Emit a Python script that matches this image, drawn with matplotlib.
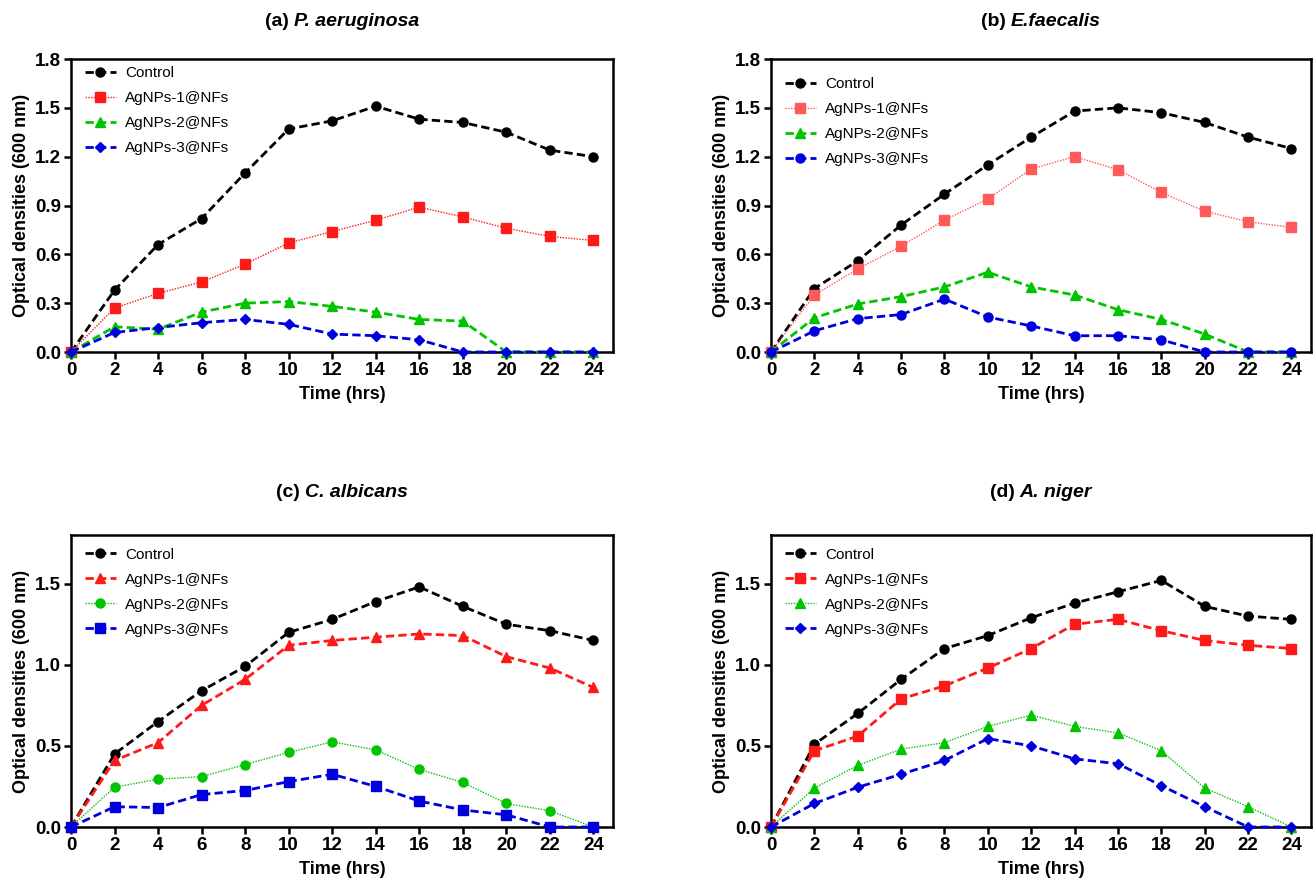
import matplotlib
matplotlib.use("Agg")
import matplotlib.pyplot as plt
import numpy as np

plt.rcParams['font.family'] = ['Liberation Sans', 'DejaVu Sans']

hours = [0, 2, 4, 6, 8, 10, 12, 14, 16, 18, 20, 22, 24]
series_names = ["Control", "AgNPs-1@NFs", "AgNPs-2@NFs", "AgNPs-3@NFs"]

# (a) P. aeruginosa
a_control = [0, 0.38, 0.66, 0.82, 1.10, 1.37, 1.42, 1.51, 1.43, 1.41, 1.35, 1.24, 1.20]
a_np1 = [0, 0.27, 0.36, 0.43, 0.54, 0.67, 0.74, 0.81, 0.89, 0.83, 0.76, 0.71, 0.685]
a_np2 = [0, 0.155, 0.14, 0.245, 0.30, 0.31, 0.28, 0.245, 0.20, 0.19, 0, 0, 0]
a_np3 = [0, 0.12, 0.15, 0.18, 0.20, 0.17, 0.11, 0.10, 0.075, 0, 0, 0, 0]

# (b) E.faecalis
b_control = [0, 0.39, 0.56, 0.78, 0.97, 1.15, 1.32, 1.48, 1.50, 1.47, 1.41, 1.32, 1.25]
b_np1 = [0, 0.35, 0.51, 0.65, 0.81, 0.94, 1.125, 1.20, 1.12, 0.98, 0.865, 0.80, 0.765]
b_np2 = [0, 0.21, 0.295, 0.34, 0.40, 0.49, 0.40, 0.35, 0.26, 0.20, 0.11, 0, 0]
b_np3 = [0, 0.13, 0.205, 0.23, 0.325, 0.215, 0.16, 0.10, 0.10, 0.075, 0, 0, 0]

# (c) C. albicans
c_control = [0, 0.45, 0.65, 0.84, 0.99, 1.20, 1.28, 1.39, 1.48, 1.36, 1.25, 1.21, 1.15]
c_np1 = [0, 0.41, 0.52, 0.75, 0.91, 1.12, 1.15, 1.17, 1.19, 1.18, 1.05, 0.98, 0.86]
c_np2 = [0, 0.245, 0.295, 0.31, 0.385, 0.46, 0.525, 0.475, 0.355, 0.275, 0.145, 0.10, 0]
c_np3 = [0, 0.125, 0.12, 0.20, 0.225, 0.28, 0.325, 0.25, 0.16, 0.105, 0.075, 0, 0]

# (d) A. niger
d_control = [0, 0.51, 0.70, 0.91, 1.10, 1.18, 1.29, 1.38, 1.45, 1.52, 1.36, 1.30, 1.28]
d_np1 = [0, 0.47, 0.56, 0.79, 0.87, 0.98, 1.10, 1.25, 1.28, 1.21, 1.15, 1.12, 1.10]
d_np2 = [0, 0.24, 0.38, 0.48, 0.52, 0.62, 0.69, 0.62, 0.58, 0.47, 0.24, 0.125, 0]
d_np3 = [0, 0.145, 0.245, 0.325, 0.41, 0.545, 0.50, 0.42, 0.39, 0.255, 0.125, 0, 0]

black = "#000000"
red = "#FF1A1A"
lightred = "#FF5A5A"
green = "#00C400"
blue = "#0000DD"

dash = (0, (3, 1.5))
dot = (0, (1, 1))

# per panel: title prefix, species, data, styles (color, marker, linestyle, lw)
panels = [
    ("(a) ", "P. aeruginosa", [a_control, a_np1, a_np2, a_np3],
     [(black, "o", dash, 2.0), (red, "s", dot, 1.0),
      (green, "^", dash, 2.0), (blue, "D", dash, 2.0)],
     [0, 0.3, 0.6, 0.9, 1.2, 1.5, 1.8], 0.975),
    ("(b) ", "E.faecalis", [b_control, b_np1, b_np2, b_np3],
     [(black, "o", dash, 2.0), (lightred, "s", dot, 1.0),
      (green, "^", dash, 2.0), (blue, "o", dash, 2.0)],
     [0, 0.3, 0.6, 0.9, 1.2, 1.5, 1.8], 0.937),
    ("(c) ", "C. albicans", [c_control, c_np1, c_np2, c_np3],
     [(black, "o", dash, 2.0), (red, "^", dash, 2.0),
      (green, "o", dot, 1.0), (blue, "s", dash, 2.0)],
     [0, 0.5, 1.0, 1.5], 0.957),
    ("(d) ", "A. niger", [d_control, d_np1, d_np2, d_np3],
     [(black, "o", dash, 2.0), (red, "s", dash, 2.0),
      (green, "^", dot, 1.0), (blue, "D", dash, 2.0)],
     [0, 0.5, 1.0, 1.5], 0.957),
]

W, H = 1314, 880
fig = plt.figure(figsize=(W / 100, H / 100), dpi=100)
renderer = fig.canvas.get_renderer()

# axes boxes in pixels: left, top, right, bottom
boxes = [(71, 59, 613, 352), (771, 59, 1311, 352),
         (71, 535, 613, 827), (771, 535, 1311, 827)]
title_y = [22, 22, 492, 492]

for (prefix, species, data, styles, yticks, legy), box, ty in zip(panels, boxes, title_y):
    l, t, r, b = box
    ax = fig.add_axes([l / W, 1 - b / H, (r - l) / W, (b - t) / H])
    for vals, name, (c, m, ls, lw) in zip(data, series_names, styles):
        ms = 6.5 if m != "D" else 5.5
        ax.plot(hours, vals, color=c, marker=m, linestyle=ls, linewidth=lw,
                markersize=ms, label=name, clip_on=False, zorder=3)
    ax.set_xlim(0, 24.9)
    ax.set_ylim(0, 1.8)
    ax.set_xticks(hours)
    ax.set_yticks(yticks)
    ax.set_yticklabels(["%.1f" % v for v in yticks])
    ax.tick_params(direction="out", length=5, width=1.8, labelsize=13.5, pad=2)
    for lab in ax.get_xticklabels() + ax.get_yticklabels():
        lab.set_fontweight("bold")
    for sp in ax.spines.values():
        sp.set_linewidth(1.8)
    ax.set_xlabel("Time (hrs)", fontsize=13, fontweight="bold", labelpad=5)
    ax.set_ylabel("Optical densities (600 nm)", fontsize=13, fontweight="bold", labelpad=4)
    ax.legend(loc="upper left", bbox_to_anchor=(0.026, legy), frameon=False,
              fontsize=11, borderaxespad=0, borderpad=0, handlelength=2.0,
              handletextpad=0.6, labelspacing=0.72)

    # title: upright bold prefix + bold italic species, centred over the axes
    cx = (l + r) / 2
    t1 = fig.text(0, 1 - ty / H, prefix, ha="left", va="center", fontsize=14, fontweight="bold")
    t2 = fig.text(0, 1 - ty / H, species, ha="left", va="center", fontsize=14,
                  fontweight="bold", fontstyle="italic")
    w1 = t1.get_window_extent(renderer).width
    w2 = t2.get_window_extent(renderer).width
    x0 = cx - (w1 + w2) / 2
    t1.set_x(x0 / W)
    t2.set_x((x0 + w1) / W)

fig.savefig("out.png", dpi=100)
